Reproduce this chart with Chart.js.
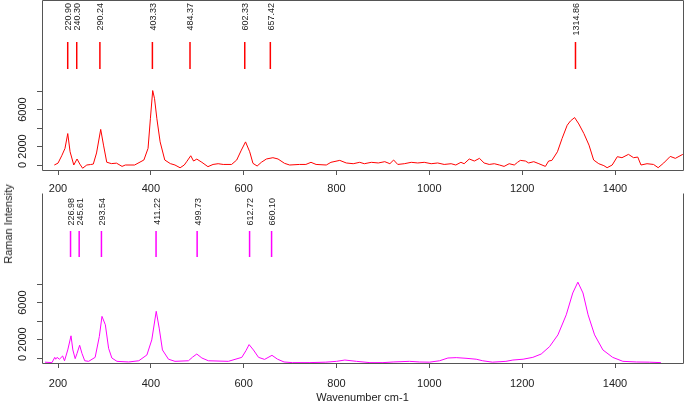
<!DOCTYPE html>
<html>
<head>
<meta charset="utf-8">
<script src="https://cdn.jsdelivr.net/npm/chart.js@4.4.1/dist/chart.umd.min.js"></script>
<style>
  body { margin: 0; background: #fff; width: 685px; height: 405px; overflow: hidden; position: relative; font-family: "Liberation Sans", Arial, sans-serif; }
  #top-wrap { position: absolute; left: 0; top: 0; width: 685px; height: 195px; }
  #bottom-wrap { position: absolute; left: 0; top: 190px; width: 685px; height: 215px; }
  #ylab { position: absolute; left: 8px; top: 224px; transform: translate(-50%, -50%) rotate(-90deg); font-size: 11px; white-space: nowrap; color: #222; }
</style>
</head>
<body>
<div id="top-wrap"><canvas id="top-chart" width="685" height="195"></canvas></div>
<div id="bottom-wrap"><canvas id="bottom-chart" width="685" height="215"></canvas></div>
<div id="ylab">Raman Intensity</div>
<script>
// 축 범위 / 눈금
const xMin = 165.5;
const xMax = 1546.5;
const yMin = -540;
const yMax = 17840;
const xTicks = [200, 400, 600, 800, 1000, 1200, 1400];
const xTickLabels = ['200', '400', '600', '800', '1000', '1200', '1400'];
const yTicks = [0, 2000, 4000, 6000, 8000];
const yTickLabels = ['0', '2000', '', '6000', ''];

// 위쪽 스펙트럼 (빨강)
const topWn = [192, 200, 208, 215, 221, 226, 234, 241, 247, 253, 262, 270, 276, 283, 292, 298, 305, 315, 326, 338, 345, 365,
  385, 394, 399, 404, 408, 413, 420, 430, 442, 452, 463, 472, 477, 486, 492, 499, 510, 523, 534, 545, 556, 574, 585, 595,
  604, 613, 620, 629, 638, 649, 663, 674, 688, 699, 720, 734, 745, 756, 778, 788, 807, 821, 836, 850, 860, 875, 890, 904,
  915, 923, 932, 946, 961, 975, 989, 1004, 1018, 1032, 1047, 1057, 1068, 1075, 1086, 1097, 1108, 1118, 1129, 1140, 1151,
  1161, 1172, 1183, 1190, 1196, 1207, 1214, 1225, 1236, 1250, 1257, 1264, 1276, 1286, 1297, 1304, 1313, 1322, 1333, 1344,
  1354, 1365, 1376, 1383, 1394, 1405, 1415, 1429, 1440, 1449, 1456, 1469, 1483, 1493, 1505, 1519, 1530, 1546];
const topInt = [0, 200, 1000, 1790, 3400, 1430, 0, 650, 100, -350, 0, 50, 100, 1300, 3850, 2150, 300, 150, 200, -150, 0, 0,
  540, 1800, 5000, 8050, 7170, 5000, 2500, 540, 150, 0, -300, 0, 350, 1000, 430, 640, 290, -180, 60, 140, 60, 60, 540, 1610,
  2500, 1430, 180, -110, 290, 650, 790, 650, 180, 0, 60, 60, 290, 60, 0, 290, 500, 220, 140, 290, 140, 290, 220, 360,
  140, 540, 60, 140, 290, 220, 290, 140, 220, 60, 140, 0, 290, 140, 650, 430, 720, 220, 60, 140, 0,
  -150, 140, 0, 290, 500, 430, 220, 360, 140, -150, 430, 500, 1430, 2870, 4300, 4760, 5130, 4440, 3400, 2150,
  540, 140, -70, -290, 0, 900, 790, 1150, 790, 860, 0, 140, 60, -290, 220, 930, 720, 1150];
const topPeaks = [220.90, 240.30, 290.24, 403.33, 484.37, 602.33, 657.42, 1314.86];

// 아래쪽 스펙트럼 (자홍)
const bottomWn = [172, 187, 193, 195, 198, 203, 210, 214, 221, 228, 232, 237, 241, 246.6, 251.6, 257.6, 266, 280, 289, 294.7,
  302, 309, 316, 327, 352, 374, 391.5, 402, 411.6, 418, 425, 438, 452, 481, 490, 499, 510, 524, 567, 596, 605, 611.7, 621,
  632, 645, 661, 673, 687, 705, 741, 777, 800, 818, 843, 872, 900, 922, 957, 979, 1000, 1022, 1040, 1058, 1079, 1101,
  1115, 1136, 1165, 1180, 1202, 1223, 1241, 1259, 1277, 1295, 1309, 1320, 1331, 1342, 1356, 1374, 1395, 1417, 1446, 1474, 1499];
const bottomInt = [-450, -500, 70, -130, 70, -130, 220, -300, 870, 2400, 870, -70, 500, 1380, 500, -300, -360, 70, 2320, 4500,
  3590, 1050, 0, -360, -430, -300, 330, 1960, 5050, 3230, 870, -130, -360, -300, 100, 430, 0, -300, -360, 70, 800, 1450, 870,
  70, -150, 290, -130, -430, -500, -500, -450, -360, -220, -360, -500, -500, -430, -360, -430, -450, -300, 0, 40, -30, -130,
  -300, -450, -360, -220, -130, 70, 430, 1230, 2500, 4670, 7030, 8200, 7030, 4670, 2500, 870, 70, -360, -430, -450, -500];
const bottomPeaks = [226.98, 245.61, 293.54, 411.22, 499.73, 612.72, 660.10];

Chart.defaults.font.family = "'Liberation Sans', Arial, sans-serif";
Chart.defaults.color = '#222';
Chart.defaults.animation = false;

// 박스, 세로 눈금 라벨, 피크 라벨
const panelPlugin = {
    id: 'panel',
    afterDatasetsDraw(chart, args, opts) {
        const { ctx, chartArea: a, scales } = chart;
        const l = Math.floor(a.left) + 0.5;
        const r = Math.floor(a.right) + 0.5;
        const t = Math.floor(a.top) + 0.5;
        const b = Math.floor(a.bottom) + 0.5;

        ctx.save();
        ctx.strokeStyle = '#555';
        ctx.lineWidth = 1;
        ctx.beginPath();
        if (opts.closedTop) {
            ctx.moveTo(l, b); ctx.lineTo(l, t); ctx.lineTo(r, t); ctx.lineTo(r, b); ctx.lineTo(l, b);
        } else {
            ctx.moveTo(l, t); ctx.lineTo(l, b); ctx.lineTo(r, b); ctx.lineTo(r, t);
        }
        ctx.stroke();

        // y 눈금 라벨 (세로)
        ctx.fillStyle = '#222';
        ctx.font = "11px 'Liberation Sans', Arial, sans-serif";
        ctx.textAlign = 'center';
        ctx.textBaseline = 'middle';
        yTicks.forEach((v, i) => {
            if (!yTickLabels[i]) return;
            const y = scales.y.getPixelForValue(v);
            ctx.save();
            ctx.translate(23, y);
            ctx.rotate(-Math.PI / 2);
            ctx.fillText(yTickLabels[i], 0, 0);
            ctx.restore();
        });

        // 피크 라벨
        ctx.font = "9px 'Liberation Sans', Arial, sans-serif";
        ctx.textAlign = 'right';
        const yTop = scales.y.getPixelForValue(opts.labelTop);
        opts.peaks.forEach(p => {
            const x = scales.x.getPixelForValue(p);
            ctx.save();
            ctx.translate(x + 1, yTop);
            ctx.rotate(-Math.PI / 2);
            ctx.fillText(p.toFixed(2), 0, 0);
            ctx.restore();
        });
        ctx.restore();
    }
};

function createPanel(id, wn, intensity, peaks, color, cfg) {
    const ctx = document.getElementById(id).getContext('2d');

    const datasets = [{
        data: wn.map((x, i) => ({ x: x, y: intensity[i] })),
        borderColor: color,
        borderWidth: 1,
        pointRadius: 0,
        tension: 0,
        fill: false
    }];
    // 피크 표시선: 피크마다 세로 선분 하나
    peaks.forEach(p => {
        datasets.push({
            data: [{ x: p, y: cfg.lineLo }, { x: p, y: cfg.lineHi }],
            borderColor: color,
            borderWidth: 1.5,
            pointRadius: 0,
            fill: false
        });
    });

    return new Chart(ctx, {
        type: 'line',
        data: { datasets: datasets },
        options: {
            responsive: false,
            layout: { padding: { top: cfg.padTop, right: 2, left: 0, bottom: 0 } },
            plugins: {
                legend: { display: false },
                tooltip: { enabled: false },
                panel: { closedTop: cfg.closedTop, peaks: peaks, labelTop: cfg.labelTop }
            },
            scales: {
                x: {
                    type: 'linear',
                    min: xMin,
                    max: xMax,
                    afterBuildTicks: s => { s.ticks = xTicks.map(v => ({ value: v })); },
                    afterFit: s => { s.height = cfg.xHeight; },
                    border: { display: false },
                    grid: { drawOnChartArea: false, drawTicks: true, tickLength: 5, color: '#555' },
                    ticks: {
                        autoSkip: false,
                        maxRotation: 0,
                        padding: cfg.xPad,
                        font: { size: 11 },
                        callback: (v, i) => xTickLabels[i]
                    },
                    title: {
                        display: cfg.xTitle,
                        text: 'Wavenumber cm-1',
                        font: { size: 11 },
                        padding: { top: 0, bottom: 0 }
                    }
                },
                y: {
                    min: yMin,
                    max: yMax,
                    afterBuildTicks: s => { s.ticks = yTicks.map(v => ({ value: v })); },
                    afterFit: s => { s.width = 42; },
                    border: { display: false },
                    grid: { drawOnChartArea: false, drawTicks: true, tickLength: 5, color: '#555' },
                    ticks: { display: false }
                }
            }
        },
        plugins: [panelPlugin]
    });
}

createPanel('top-chart', topWn, topInt, topPeaks, '#ff0000', {
    padTop: 0, xHeight: 25, xPad: 7, closedTop: true, xTitle: false,
    lineLo: 10380, lineHi: 13300, labelTop: 17515
});
createPanel('bottom-chart', bottomWn, bottomInt, bottomPeaks, '#ff00ff', {
    padTop: 3, xHeight: 42, xPad: 9, closedTop: false, xTitle: true,
    lineLo: 10920, lineHi: 13730, labelTop: 17300
});
</script>
</body>
</html>
